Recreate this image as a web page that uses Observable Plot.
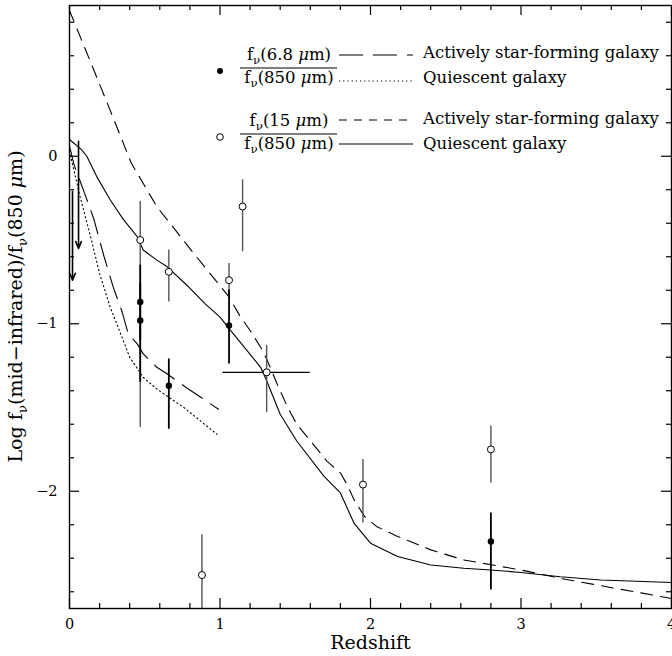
<!DOCTYPE html>
<html>
<head>
<meta charset="utf-8">
<script src="https://cdn.jsdelivr.net/npm/d3@7"></script>
<script src="https://cdn.jsdelivr.net/npm/@observablehq/plot@0.6"></script>
<style>
  body { margin: 0; background: #fff; }
  #chart svg { display: block; }
</style>
</head>
<body>
<div id="chart"></div>
<script>
// Model tracks: log f(mid-IR)/f(850 um) versus redshift
// 6.8 um, actively star-forming galaxy (long dashes)
const sf68Z = [0, 0.03, 0.10, 0.16, 0.23, 0.29, 0.35, 0.39, 0.45, 0.49, 0.58, 0.65, 0.79, 0.99];
const sf68Y = [0.06, -0.05, -0.22, -0.37, -0.60, -0.78, -0.93, -1.06, -1.12, -1.18, -1.26, -1.30, -1.39, -1.51];
// 6.8 um, quiescent galaxy (dotted)
const q68Z = [0, 0.07, 0.14, 0.20, 0.27, 0.34, 0.40, 0.49, 0.58, 0.76, 0.98];
const q68Y = [0.03, -0.24, -0.48, -0.70, -0.90, -1.06, -1.20, -1.32, -1.39, -1.50, -1.66];
// 15 um, actively star-forming galaxy (short dashes)
const sf15Z = [0, 0.25, 0.33, 0.41, 0.58, 0.79, 1.06, 1.13, 1.20, 1.27, 1.31, 1.38, 1.45, 1.51, 1.62, 1.71, 1.80, 1.85, 1.89, 1.96, 2.04, 2.18, 2.40, 2.62, 3.00, 3.26, 4.00];
const sf15Y = [0.87, 0.32, 0.14, -0.04, -0.30, -0.54, -0.84, -0.95, -1.04, -1.14, -1.21, -1.36, -1.50, -1.60, -1.72, -1.82, -1.89, -1.97, -2.05, -2.15, -2.21, -2.27, -2.35, -2.41, -2.47, -2.52, -2.64];
// 15 um, quiescent galaxy (solid)
const q15Z = [0, 0.08, 0.115, 0.18, 0.27, 0.36, 0.45, 0.49, 0.58, 0.65, 0.78, 0.90, 1.00, 1.07, 1.18, 1.27, 1.31, 1.40, 1.51, 1.69, 1.80, 1.89, 2.00, 2.18, 2.40, 2.62, 2.80, 3.00, 3.26, 3.53, 4.00];
const q15Y = [0.10, 0.04, 0.00, -0.12, -0.26, -0.38, -0.48, -0.56, -0.62, -0.66, -0.77, -0.88, -0.96, -1.04, -1.16, -1.26, -1.34, -1.54, -1.70, -1.91, -2.01, -2.19, -2.31, -2.39, -2.44, -2.46, -2.47, -2.485, -2.51, -2.53, -2.545];

// Observed sources: 15 um / 850 um (open circles)
const open15Z  = [0.47, 0.66, 1.06, 1.15, 1.31, 1.95, 2.80, 0.88];
const open15Y  = [-0.50, -0.69, -0.74, -0.30, -1.29, -1.96, -1.75, -2.50];
const open15Hi = [-0.27, -0.56, -0.64, -0.14, -1.13, -1.81, -1.61, -2.26];
const open15Lo = [-1.62, -0.87, -0.85, -0.57, -1.53, -2.19, -1.95, -2.70];
// redshift range of the z = 1.31 source
const zRangeY  = [-1.29];
const zRangeLo = [1.02];
const zRangeHi = [1.60];

// Observed sources: 6.8 um / 850 um (filled circles)
const filled68Z  = [0.47, 0.47, 0.66, 1.06, 2.80];
const filled68Y  = [-0.87, -0.98, -1.37, -1.01, -2.30];
const filled68Hi = [-0.65, -0.76, -1.21, -0.80, -2.13];
const filled68Lo = [-1.10, -1.35, -1.63, -1.24, -2.59];

// Upper limits at low redshift
const limitZ      = [0.02, 0.06];
const limitTop    = [-0.21, 0.09];
const limitBottom = [-0.74, -0.55];

// Axis ticks
const xMajor = [0, 1, 2, 3, 4];
const xMinor = [0.2, 0.4, 0.6, 0.8, 1.2, 1.4, 1.6, 1.8, 2.2, 2.4, 2.6, 2.8, 3.2, 3.4, 3.6, 3.8];
const yMajor = [-2, -1, 0];
const yMinor = [-2.6, -2.4, -2.2, -1.8, -1.6, -1.4, -1.2, -0.8, -0.6, -0.4, -0.2, 0.2, 0.4, 0.6, 0.8];

// Legend text
const legendBands = ["6.8", "15"];
const legendLabels = ["Actively star-forming galaxy", "Quiescent galaxy"];

const FONT = "DejaVu Serif";
const W = 672, H = 656;
const M = {top: 5, right: 1, bottom: 48, left: 69};
const innerW = W - M.left - M.right;
const innerH = H - M.top - M.bottom;

const curve = (zs, ys) => zs.map((z, i) => ({z, y: ys[i]}));
const points = (zs, ys, hi, lo) => zs.map((z, i) => ({z, y: ys[i], hi: hi[i], lo: lo[i]}));

const open15 = points(open15Z, open15Y, open15Hi, open15Lo);
const filled68 = points(filled68Z, filled68Y, filled68Hi, filled68Lo);
const zRange = zRangeY.map((y, i) => ({y, lo: zRangeLo[i], hi: zRangeHi[i]}));
const limits = limitZ.map((z, i) => ({z, top: limitTop[i], bottom: limitBottom[i]}));

const fmt = d => d < 0 ? "\u2212" + (-d) : String(d);

const plot = Plot.plot({
  width: W,
  height: H,
  marginTop: M.top,
  marginRight: M.right,
  marginBottom: M.bottom,
  marginLeft: M.left,
  style: {fontFamily: FONT, background: "#fff", color: "#000"},
  x: {domain: [0, 4]},
  y: {domain: [-2.7, 0.9]},
  marks: [
    // inward ticks on all four sides
    Plot.tickX(xMinor, {x: d => d, insetTop: innerH - 5, strokeWidth: 1.2}),
    Plot.tickX(xMinor, {x: d => d, insetBottom: innerH - 5, strokeWidth: 1.2}),
    Plot.tickX(xMajor, {x: d => d, insetTop: innerH - 10, strokeWidth: 1.2}),
    Plot.tickX(xMajor, {x: d => d, insetBottom: innerH - 10, strokeWidth: 1.2}),
    Plot.tickY(yMinor, {y: d => d, insetRight: innerW - 5, strokeWidth: 1.2}),
    Plot.tickY(yMinor, {y: d => d, insetLeft: innerW - 5, strokeWidth: 1.2}),
    Plot.tickY(yMajor, {y: d => d, insetRight: innerW - 10, strokeWidth: 1.2}),
    Plot.tickY(yMajor, {y: d => d, insetLeft: innerW - 10, strokeWidth: 1.2}),
    Plot.axisX({ticks: xMajor, tickSize: 0, tickPadding: 10, tickFormat: fmt, fontSize: 14.5, label: null}),
    Plot.axisY({ticks: yMajor, tickSize: 0, tickPadding: 12, tickFormat: fmt, fontSize: 14.5, label: null}),
    Plot.text(["Redshift"], {frameAnchor: "bottom", dy: 40, fontSize: 19}),

    // model tracks
    Plot.line(curve(q15Z, q15Y), {x: "z", y: "y", stroke: "#000", strokeWidth: 1.1}),
    Plot.line(curve(sf15Z, sf15Y), {x: "z", y: "y", stroke: "#000", strokeWidth: 1.1, strokeDasharray: "12,8"}),
    Plot.line(curve(sf68Z, sf68Y), {x: "z", y: "y", stroke: "#000", strokeWidth: 1.1, strokeDasharray: "24,10"}),
    Plot.line(curve(q68Z, q68Y), {x: "z", y: "y", stroke: "#000", strokeWidth: 1.1, strokeDasharray: "1.2,3"}),

    // error bars
    Plot.ruleX(open15, {x: "z", y1: "lo", y2: "hi", stroke: "#555", strokeWidth: 1.4}),
    Plot.ruleX(filled68, {x: "z", y1: "lo", y2: "hi", stroke: "#000", strokeWidth: 1.8}),
    Plot.ruleY(zRange, {y: "y", x1: "lo", x2: "hi", stroke: "#000", strokeWidth: 1.2}),

    // upper limits
    Plot.arrow(limits, {x1: "z", x2: "z", y1: "top", y2: "bottom", stroke: "#000", strokeWidth: 1.6, headLength: 7, headAngle: 45}),

    // sources
    Plot.dot(open15, {x: "z", y: "y", r: 3.5, stroke: "#000", fill: "#fff", strokeWidth: 1}),
    Plot.dot(filled68, {x: "z", y: "y", r: 3.2, fill: "#000", stroke: "none"}),

    Plot.frame({stroke: "#000", strokeWidth: 1.4})
  ]
});

document.getElementById("chart").appendChild(plot);
const svg = d3.select(plot);

// f_nu(...) with a subscript nu and an italic mu
function fluxText(sel, inner) {
  sel.append("tspan").text("f");
  sel.append("tspan").attr("font-size", "72%").attr("dy", 4).text("\u03bd");
  sel.append("tspan").attr("dy", -4).text("(" + inner + " ");
  sel.append("tspan").attr("font-style", "italic").text("\u03bc");
  sel.append("tspan").text("m)");
}

// y axis title
const yTitle = svg.append("text")
  .attr("transform", `translate(22,${M.top + innerH / 2}) rotate(-90)`)
  .attr("text-anchor", "middle")
  .attr("font-family", FONT)
  .attr("font-size", 19);
yTitle.append("tspan").text("Log f");
yTitle.append("tspan").attr("font-size", "72%").attr("dy", 5).text("\u03bd");
yTitle.append("tspan").attr("dy", -5).text("(mid\u2212infrared)/f");
yTitle.append("tspan").attr("font-size", "72%").attr("dy", 5).text("\u03bd");
yTitle.append("tspan").attr("dy", -5).text("(850 ");
yTitle.append("tspan").attr("font-style", "italic").text("\u03bc");
yTitle.append("tspan").text("m)");

// legend
const leg = svg.append("g").attr("font-family", FONT).attr("font-size", 16.5).attr("fill", "#000");
const groups = [
  {top: 58, marker: "filled", dashes: ["24,10", "1.2,3"], line1: 55, line2: 81},
  {top: 124, marker: "open", dashes: ["8,7", null], line1: 120, line2: 144}
];
groups.forEach((g, i) => {
  const y0 = g.top;
  // marker
  leg.append("circle")
    .attr("cx", 220).attr("cy", y0 + 13).attr("r", g.marker === "filled" ? 3 : 3.3)
    .attr("fill", g.marker === "filled" ? "#000" : "#fff")
    .attr("stroke", "#000").attr("stroke-width", g.marker === "filled" ? 0 : 1);
  // ratio
  fluxText(leg.append("text").attr("x", 289).attr("y", y0 + 2).attr("text-anchor", "middle"), legendBands[i]);
  leg.append("line").attr("x1", 240).attr("x2", 337).attr("y1", y0 + 10).attr("y2", y0 + 10)
    .attr("stroke", "#000").attr("stroke-width", 1.2);
  fluxText(leg.append("text").attr("x", 289).attr("y", y0 + 25).attr("text-anchor", "middle"), "850");
  // line samples
  [g.line1, g.line2].forEach((ly, j) => {
    const l = leg.append("line").attr("x1", 339).attr("x2", 413).attr("y1", ly).attr("y2", ly)
      .attr("stroke", "#000").attr("stroke-width", 1.1);
    if (g.dashes[j]) l.attr("stroke-dasharray", g.dashes[j]);
  });
  leg.append("text").attr("x", 423).attr("y", y0).attr("text-anchor", "start").text(legendLabels[0]);
  leg.append("text").attr("x", 423).attr("y", y0 + 25).attr("text-anchor", "start").text(legendLabels[1]);
});
</script>
</body>
</html>
